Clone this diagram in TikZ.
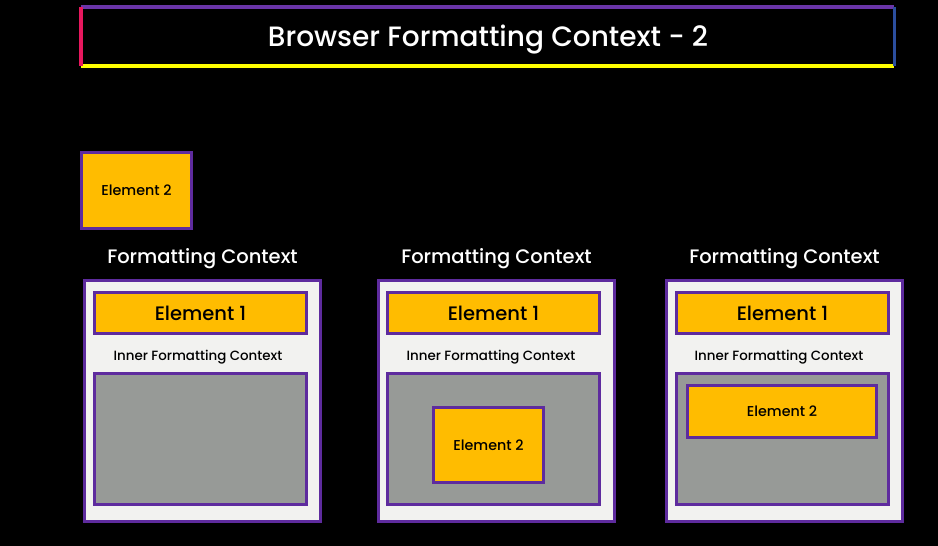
\documentclass[tikz,border=0pt]{standalone}
\usepackage{fontspec}
\setmainfont{Poppins}
\newfontfamily\medfont{Poppins Medium}
\usetikzlibrary{positioning}

\definecolor{gold}{HTML}{FFBC00}
\definecolor{edge}{HTML}{5E2B9E}
\definecolor{paper}{HTML}{F2F2F0}
\definecolor{slate}{HTML}{979A97}
\definecolor{topbar}{HTML}{6A35A8}
\definecolor{leftbar}{HTML}{E8185E}
\definecolor{rightbar}{HTML}{2B4E9E}
\definecolor{lowbar}{HTML}{FFFF00}

\tikzset{
    box/.style = {draw=edge, line width=3pt, inner sep=0pt, anchor=north west},
    elemtwo/.style = {box, fill=gold, font=\medfont\fontsize{14.3}{17}\selectfont},
    elemone/.style = {box, fill=gold, minimum width=212pt, minimum height=41pt, font=\medfont\fontsize{19.5}{23}\selectfont},
    panel/.style = {box, fill=paper, minimum width=236pt, minimum height=241pt},
    inner/.style = {box, fill=slate, minimum width=212pt, minimum height=131pt},
    heading/.style = {text=white, inner sep=0pt, font=\medfont\fontsize{19.5}{23}\selectfont},
    sublabel/.style = {text=black, inner sep=0pt, font=\medfont\fontsize{13.4}{16}\selectfont}
}

\begin{document}
\begin{tikzpicture}[x=1pt, y=-1pt]

    \fill[black] (0,0) rectangle (938,546);
    \useasboundingbox (0,0) rectangle (938,546);

    % title bar
    \coordinate (tl) at (81,7);
    \coordinate (tr) at (894,7);
    \coordinate (bl) at (81,66);
    \coordinate (br) at (894,66);
    \draw[topbar, line width=4pt] (tl) -- (tr);
    \draw[lowbar, line width=4pt] (bl) -- (br);
    \draw[leftbar, line width=4pt] (tl) -- (bl);
    \draw[rightbar, line width=3pt] (tr) -- (br);
    \node (title) [text=white, font=\medfont\fontsize{28}{33}\selectfont] at (488,40) {Browser Formatting Context - 2};

    % floating element
    \node (free) [elemtwo, minimum width=110pt, minimum height=76pt] at (80,151) {Element 2};

    % first context
    \node (fc1) [panel] at (83,279) {};
    \node (h1) [heading, above = 10pt of fc1] {Formatting Context};
    \node (e1a) [elemone] at (93,291) {Element 1};
    \node (ifc1) [sublabel] at (198,357) {Inner Formatting Context};
    \node (in1) [inner] at (93,372) {};

    % second context
    \node (fc2) [panel] at (377,279) {};
    \node (h2) [heading, above = 10pt of fc2] {Formatting Context};
    \node (e1b) [elemone] at (386,291) {Element 1};
    \node (ifc2) [sublabel] at (491,357) {Inner Formatting Context};
    \node (in2) [inner] at (386,372) {};
    \node (e2b) [elemtwo, minimum width=110pt, minimum height=75pt] at (432,406) {Element 2};

    % third context
    \node (fc3) [panel] at (665,279) {};
    \node (h3) [heading, above = 10pt of fc3] {Formatting Context};
    \node (e1c) [elemone] at (675,291) {Element 1};
    \node (ifc3) [sublabel] at (779,357) {Inner Formatting Context};
    \node (in3) [inner] at (675,372) {};
    \node (e2c) [elemtwo, minimum width=189pt, minimum height=52pt] at (686,384) {Element 2};

\end{tikzpicture}
\end{document}
